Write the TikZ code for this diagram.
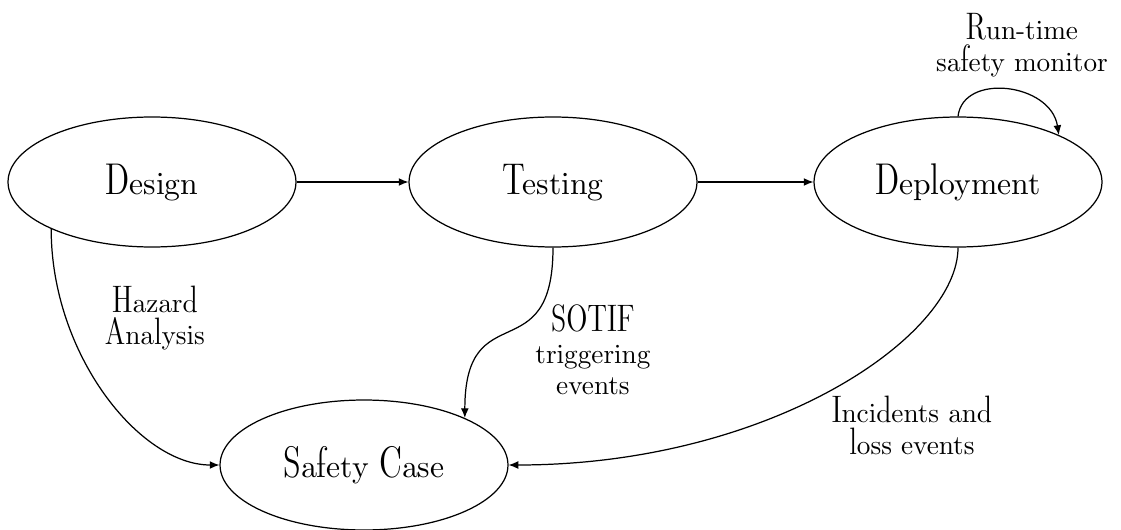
\documentclass[tikz,border=0pt]{standalone}
\usetikzlibrary{shapes.geometric,arrows.meta}
% Dunhill faces at the sizes used in the drawing
\font\dhnode=cmdunh10 at 18pt
\font\dhlbl=cmdunh10 at 15.5pt
\newcommand{\lblfont}{\dhlbl\baselineskip=18pt\relax}
\tikzset{
  stage/.style={ellipse, draw, line width=0.7pt, inner sep=0pt,
    minimum width=5.76cm, minimum height=2.6cm, font=\dhnode},
  flow/.style={line width=0.7pt, -{Latex[length=5.5pt,width=4.5pt]}},
  lbl/.style={align=center, inner sep=0pt, font=\lblfont}
}
\begin{document}
\begin{tikzpicture}[x=0.02cm, y=-0.02cm]
  \useasboundingbox (0,0) rectangle (1121,530);
  \node[stage] (design) at (152,182) {Design};
  \node[stage] (testing) at (553,182) {Testing};
  \node[stage] (deploy) at (958,182) {Deployment};
  \node[stage] (safety) at (364,465) {Safety Case};

  \draw[flow] (design) -- (testing);
  \draw[flow] (testing) -- (deploy);

  \draw[flow] (design.205) .. controls +(0,125) and +(-80,0) .. (safety.west);
  \draw[flow] (testing.south) .. controls +(0,125) and +(0,-125) .. (safety.25);
  \draw[flow] (deploy.south) .. controls +(0,89) and +(261,0) .. (safety.east);
  \draw[flow] (deploy.north) .. controls +(5,-44) and +(-8,-52) .. (deploy.25);

  \node[lbl] (hz) at (155,318) {Hazard\\Analysis};
  \node[lbl] (so) at (593,350) {SOTIF\\triggering\\events};
  \node[lbl] (inc) at (912,425) {Incidents and\\loss events};
  \node[lbl] (rt) at (1022,45) {Run-time\\safety monitor};
\end{tikzpicture}
\end{document}
